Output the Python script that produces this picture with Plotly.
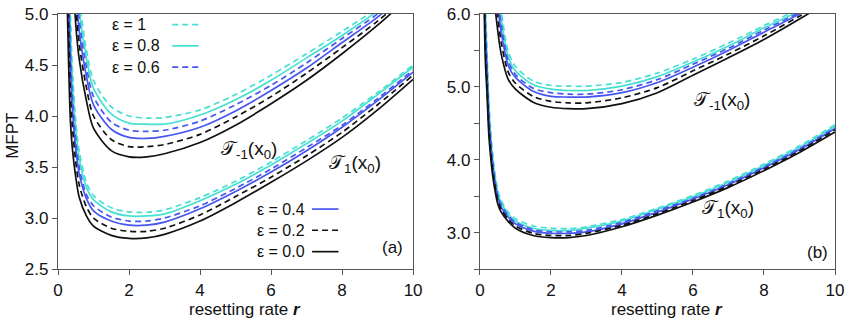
import plotly.graph_objects as go

# resetting rate samples
r_left = [0.2, 0.25, 0.3, 0.35, 0.4, 0.5, 0.6, 0.8, 1.0, 1.5, 2, 2.5, 3, 4, 5, 6, 7, 8, 9, 10]
r_right = [0.1, 0.15, 0.2, 0.25, 0.3, 0.35, 0.4, 0.5, 0.6, 0.8, 1.0, 1.5, 2, 2.5, 3, 4, 5, 6, 7, 8, 9, 10]

eps_labels = ["ε = 1", "ε = 0.8", "ε = 0.6", "ε = 0.4", "ε = 0.2", "ε = 0.0"]

x_ticks = [0, 2, 4, 6, 8, 10]
y_ticks_a = [2.5, 3.0, 3.5, 4.0, 4.5, 5.0]
y_ticks_b = [3.0, 4.0, 5.0, 6.0]

# panel (a): T_-1(x0)
a_m_e10 = [11.5, 9.8, 8.1, 7.2, 6.5, 5.6, 5.13, 4.65, 4.35, 4.09, 4.00, 3.98, 3.985, 4.06, 4.21, 4.40, 4.61, 4.83, 5.06, 5.32]
a_m_e08 = [11.25, 9.58, 7.91, 7.03, 6.35, 5.48, 5.03, 4.57, 4.27, 4.02, 3.93, 3.92, 3.92, 4.01, 4.16, 4.35, 4.57, 4.79, 5.03, 5.30]
a_m_e06 = [10.99, 9.36, 7.73, 6.86, 6.19, 5.36, 4.93, 4.48, 4.19, 3.94, 3.86, 3.85, 3.86, 3.95, 4.11, 4.30, 4.52, 4.76, 5.00, 5.28]
a_m_e04 = [10.72, 9.12, 7.53, 6.68, 6.03, 5.24, 4.83, 4.39, 4.11, 3.87, 3.79, 3.78, 3.80, 3.89, 4.05, 4.25, 4.47, 4.72, 4.97, 5.26]
a_m_e02 = [10.38, 8.83, 7.28, 6.45, 5.83, 5.08, 4.70, 4.28, 4.00, 3.77, 3.70, 3.70, 3.72, 3.82, 3.99, 4.19, 4.42, 4.67, 4.93, 5.23]
a_m_e00 = [10.0, 8.5, 7.0, 6.2, 5.6, 4.9, 4.55, 4.15, 3.88, 3.66, 3.60, 3.60, 3.63, 3.74, 3.91, 4.12, 4.35, 4.61, 4.89, 5.20]

# panel (a): T_1(x0)
a_p_e10 = [9.0, 7.0, 5.8, 5.0, 4.5, 3.95, 3.65, 3.35, 3.22, 3.10, 3.06, 3.055, 3.08, 3.20, 3.36, 3.55, 3.76, 3.98, 4.23, 4.50]
a_p_e08 = [8.63, 6.75, 5.60, 4.84, 4.38, 3.87, 3.58, 3.30, 3.18, 3.06, 3.02, 3.02, 3.04, 3.17, 3.33, 3.52, 3.73, 3.95, 4.21, 4.48]
a_p_e06 = [8.13, 6.40, 5.35, 4.63, 4.22, 3.76, 3.49, 3.23, 3.12, 3.01, 2.97, 2.97, 3.00, 3.12, 3.29, 3.48, 3.69, 3.91, 4.17, 4.45]
a_p_e04 = [7.75, 6.15, 5.15, 4.48, 4.10, 3.68, 3.43, 3.19, 3.07, 2.97, 2.93, 2.93, 2.96, 3.09, 3.26, 3.45, 3.66, 3.89, 4.15, 4.43]
a_p_e02 = [7.18, 5.76, 4.85, 4.23, 3.92, 3.55, 3.32, 3.11, 3.00, 2.90, 2.87, 2.87, 2.90, 3.03, 3.21, 3.40, 3.61, 3.84, 4.11, 4.40]
a_p_e00 = [6.5, 5.3, 4.5, 3.95, 3.7, 3.4, 3.2, 3.02, 2.92, 2.83, 2.80, 2.805, 2.84, 2.97, 3.15, 3.35, 3.56, 3.79, 4.06, 4.36]

# panel (b): T_-1(x0)
b_m_e10 = [16.0, 12.5, 10.8, 9.6, 8.7, 7.9, 7.3, 6.5, 6.05, 5.48, 5.28, 5.08, 5.02, 5.01, 5.01, 5.06, 5.19, 5.38, 5.60, 5.84, 6.07, 6.30]
b_m_e08 = [15.64, 12.23, 10.57, 9.38, 8.5, 7.72, 7.11, 6.37, 5.94, 5.41, 5.22, 5.03, 4.97, 4.95, 4.95, 5.01, 5.14, 5.34, 5.56, 5.81, 6.04, 6.29]
b_m_e06 = [15.32, 11.99, 10.36, 9.19, 8.33, 7.56, 6.94, 6.26, 5.85, 5.35, 5.17, 4.98, 4.92, 4.90, 4.90, 4.96, 5.10, 5.31, 5.53, 5.78, 6.02, 6.28]
b_m_e04 = [15.0, 11.75, 10.15, 9.0, 8.15, 7.4, 6.78, 6.14, 5.75, 5.29, 5.13, 4.94, 4.87, 4.86, 4.86, 4.92, 5.06, 5.27, 5.50, 5.75, 6.00, 6.27]
b_m_e02 = [14.54, 11.41, 9.85, 8.72, 7.90, 7.17, 6.53, 5.97, 5.61, 5.20, 5.05, 4.87, 4.80, 4.78, 4.78, 4.85, 4.99, 5.22, 5.45, 5.70, 5.97, 6.25]
b_m_e00 = [14.0, 11.0, 9.5, 8.4, 7.6, 6.9, 6.25, 5.78, 5.45, 5.10, 4.97, 4.79, 4.72, 4.70, 4.70, 4.77, 4.92, 5.16, 5.40, 5.65, 5.93, 6.23]

# panel (b): T_1(x0)
b_p_e10 = [8.5, 6.3, 5.5, 4.83, 4.43, 4.12, 3.90, 3.59, 3.44, 3.28, 3.19, 3.09, 3.06, 3.055, 3.08, 3.18, 3.335, 3.51, 3.71, 3.94, 4.19, 4.48]
b_p_e08 = [8.16, 6.12, 5.38, 4.73, 4.35, 4.06, 3.85, 3.55, 3.41, 3.25, 3.16, 3.06, 3.03, 3.03, 3.06, 3.16, 3.32, 3.49, 3.69, 3.92, 4.17, 4.46]
b_p_e06 = [7.82, 5.94, 5.26, 4.64, 4.28, 4.00, 3.80, 3.51, 3.38, 3.23, 3.14, 3.04, 3.01, 3.01, 3.03, 3.14, 3.30, 3.47, 3.67, 3.90, 4.15, 4.44]
b_p_e04 = [7.57, 5.81, 5.17, 4.57, 4.22, 3.96, 3.76, 3.49, 3.35, 3.21, 3.12, 3.02, 2.99, 2.99, 3.01, 3.12, 3.28, 3.46, 3.66, 3.89, 4.14, 4.43]
b_p_e02 = [7.23, 5.63, 5.05, 4.47, 4.15, 3.90, 3.71, 3.45, 3.32, 3.18, 3.09, 2.99, 2.96, 2.96, 2.99, 3.10, 3.26, 3.44, 3.64, 3.87, 4.12, 4.41]
b_p_e00 = [6.8, 5.4, 4.9, 4.35, 4.05, 3.82, 3.65, 3.40, 3.28, 3.15, 3.06, 2.96, 2.93, 2.93, 2.96, 3.08, 3.24, 3.42, 3.62, 3.85, 4.10, 4.38]

CYAN = "#45e0d2"
BLUE = "#4656f0"
BLACK = "#111111"
DASH = "6px,4px"
styles = [(CYAN, DASH), (CYAN, "solid"), (BLUE, DASH), (BLUE, "solid"), (BLACK, DASH), (BLACK, "solid")]

panels = [
    ("x", "y", r_left, [a_m_e10, a_m_e08, a_m_e06, a_m_e04, a_m_e02, a_m_e00]),
    ("x", "y", r_left, [a_p_e10, a_p_e08, a_p_e06, a_p_e04, a_p_e02, a_p_e00]),
    ("x2", "y2", r_right, [b_m_e10, b_m_e08, b_m_e06, b_m_e04, b_m_e02, b_m_e00]),
    ("x2", "y2", r_right, [b_p_e10, b_p_e08, b_p_e06, b_p_e04, b_p_e02, b_p_e00]),
]

fig = go.Figure()
for xa, ya, rr, curves in panels:
    for (color, dash), vals in zip(styles, curves):
        fig.add_trace(go.Scatter(
            x=rr, y=vals, xaxis=xa, yaxis=ya, mode="lines",
            line=dict(color=color, dash=dash, width=1.7, shape="spline", smoothing=0.8),
            showlegend=False, hoverinfo="skip"))

FONT = "Liberation Sans, Arial, sans-serif"
axis_common = dict(
    showline=True, linecolor="#555", linewidth=1.2, mirror=True,
    ticks="outside", ticklen=5, tickcolor="#555", showgrid=False, zeroline=False,
    tickfont=dict(size=17, color="#111", family=FONT), ticklabeloverflow="allow",
)

fig.update_layout(
    width=850, height=324,
    margin=dict(l=58, r=15, t=5, b=55),
    paper_bgcolor="white", plot_bgcolor="white",
    font=dict(family=FONT, color="#111"),
    xaxis=dict(domain=[0, 0.457], range=[0, 10], tickvals=x_ticks, **axis_common),
    yaxis=dict(range=[2.5, 5.0], tickvals=y_ticks_a, tickformat=".1f", **axis_common),
    xaxis2=dict(domain=[0.543, 1], range=[0, 10], tickvals=x_ticks, anchor="y2", **axis_common),
    yaxis2=dict(range=[2.5, 6.0], tickvals=y_ticks_b, tickformat=".1f", anchor="x2",
                minor=dict(tickvals=[2.5, 3.5, 4.5, 5.5], ticks="outside", ticklen=5, tickcolor="#555"),
                **axis_common),
)


def paper_text(x, y, text, size, **kw):
    fig.add_annotation(x=x, y=y, xref="paper", yref="paper", text=text, showarrow=False,
                       xanchor=kw.pop("xanchor", "center"), yanchor="middle",
                       font=dict(size=size, family=FONT), **kw)


# axis titles placed as in the original figure
paper_text(0.241, -0.16, "resetting rate <b><i>r</i></b>", 17)
paper_text(0.784, -0.16, "resetting rate <b><i>r</i></b>", 17)
paper_text(-0.059, 0.523, "MFPT", 17, textangle=-90)

# legend keys: text on the left, line sample on the right
legend_rows = [
    (0.067, 0.147, 0.958), (0.067, 0.147, 0.875), (0.067, 0.147, 0.792),
    (0.2535, 0.327, 0.235), (0.2535, 0.327, 0.152), (0.2535, 0.327, 0.068),
]
for (tx, lx, ly), label, (color, dash) in zip(legend_rows, eps_labels, styles):
    paper_text(tx, ly, label, 16, xanchor="left")
    fig.add_shape(type="line", xref="paper", yref="paper", x0=lx, x1=lx + 0.034, y0=ly, y1=ly,
                  line=dict(color=color, dash=dash, width=1.7))

labels = [
    ("x", "y", 5.37, 3.67, "𝒯<sub>-1</sub>(x<sub>0</sub>)"),
    ("x", "y", 8.35, 3.53, "𝒯<sub>1</sub>(x<sub>0</sub>)"),
    ("x2", "y2", 6.82, 4.81, "𝒯<sub>-1</sub>(x<sub>0</sub>)"),
    ("x2", "y2", 6.99, 3.32, "𝒯<sub>1</sub>(x<sub>0</sub>)"),
]
for xr, yr, lx, ly, txt in labels:
    fig.add_annotation(x=lx, y=ly, xref=xr, yref=yr, text=txt, showarrow=False,
                       font=dict(size=19, family=FONT))

paper_text(0.431, 0.083, "(a)", 17)
paper_text(0.977, 0.064, "(b)", 17)

# page has a default body margin; remove it so the figure sits at the window's corner
fig.write_html("out.html", config={"displayModeBar": False},
               post_script="document.body.style.margin='0';")
